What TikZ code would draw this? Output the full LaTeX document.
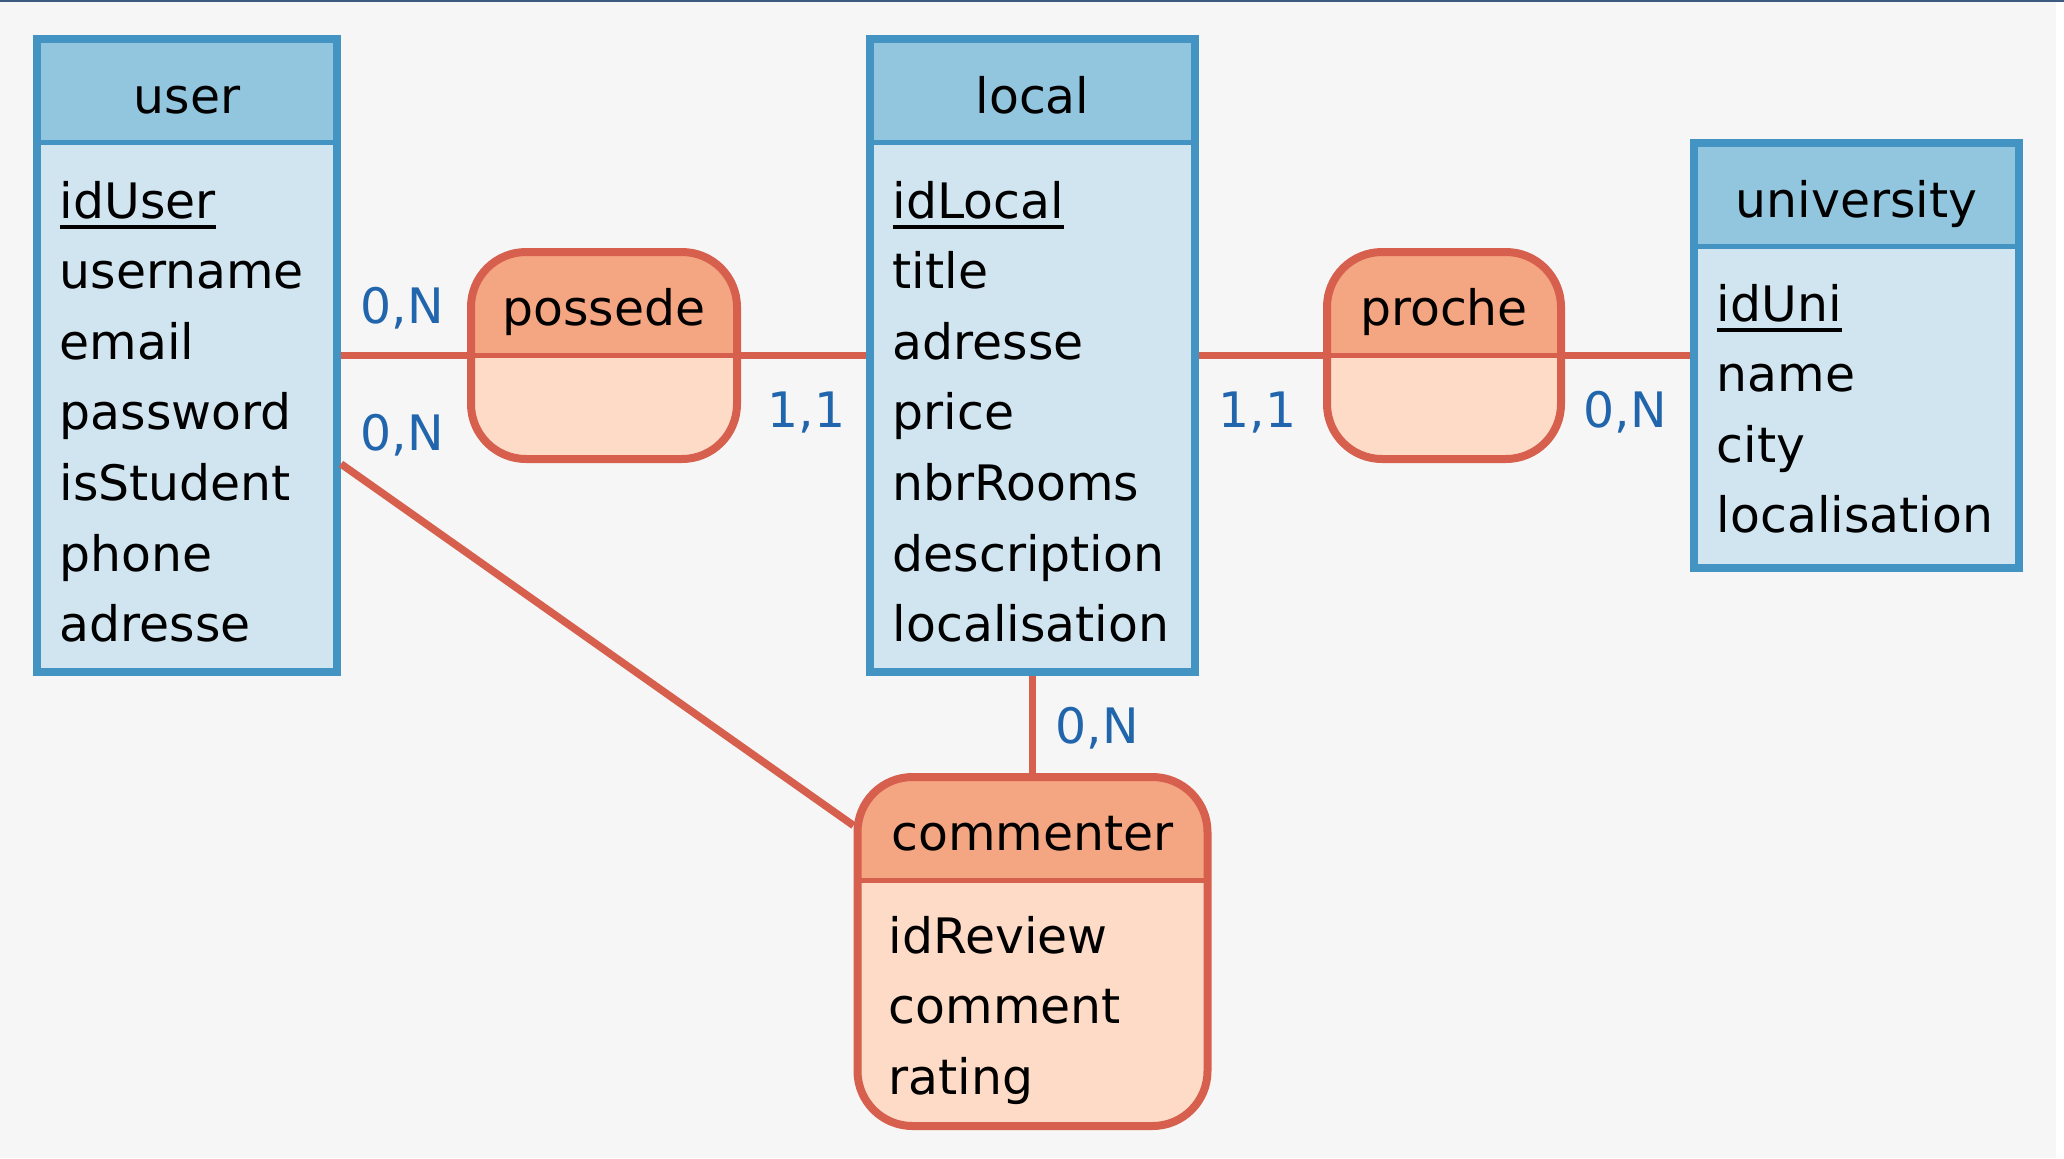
\documentclass[tikz,border=0pt]{standalone}
\usepackage{fontspec}
\setmainfont{DejaVu Sans}
\usetikzlibrary{positioning}

\definecolor{entline}{HTML}{4393C3}
\definecolor{enthead}{HTML}{92C5DE}
\definecolor{entbody}{HTML}{D1E5F0}
\definecolor{assoline}{HTML}{D6604D}
\definecolor{assohead}{HTML}{F4A582}
\definecolor{assobody}{HTML}{FDDBC7}
\definecolor{cardcol}{HTML}{2166AC}
\definecolor{bggray}{HTML}{F6F6F6}
\definecolor{topbar}{HTML}{3D5A80}

\newcommand{\keyattr}[1]{\setbox0=\hbox{#1}\rlap{\rule[-1.1mm]{\wd0}{0.4mm}}\box0}

\begin{document}
\begin{tikzpicture}[x=0.1mm, y=-0.1mm, every node/.style={font=\fontsize{13.9}{20}\selectfont}]
    \tikzset{
        boxbase/.style={draw=#1line, fill=#1body, line width=0.8mm, inner sep=0pt,
            path picture={
                \fill[#1head, sharp corners] (path picture bounding box.north west) rectangle ([yshift=-10.3mm]path picture bounding box.north east);
                \draw[#1line, line width=0.5mm, sharp corners] ([yshift=-10.3mm]path picture bounding box.north west) -- ([yshift=-10.3mm]path picture bounding box.north east);
            }},
        entbox/.style={boxbase=ent},
        assobox/.style={boxbase=asso, rounded corners=5.5mm},
        boxtitle/.style={anchor=base, inner sep=0pt},
        attr/.style={anchor=base west, inner sep=0pt},
        card/.style={anchor=base west, inner sep=0pt, text=cardcol},
        link/.style={draw=assoline, line width=0.75mm},
    }

    \useasboundingbox (0,0) rectangle (2064,1158);
    \fill[bggray] (0,0) rectangle (2056,1158);
    \fill[white] (2056,0) rectangle (2064,1158);
    \fill[topbar] (0,0) rectangle (2064,2);

    % entities
    \node[entbox, minimum width=30mm, minimum height=63.3mm] (user) at (187,355.5) {};
    \node[entbox, minimum width=32.5mm, minimum height=63.3mm] (local) at (1032.5,355.5) {};
    \node[entbox, minimum width=32.5mm, minimum height=42.5mm] (university) at (1856.5,355.5) {};

    % associations
    \node[assobox, minimum width=26.6mm, minimum height=20.7mm] (possede) at (604,355.5) {};
    \node[assobox, minimum width=23.4mm, minimum height=20.7mm] (proche) at (1444,355.5) {};
    \node[assobox, minimum width=35mm, minimum height=34.9mm] (commenter) at (1032.5,951.5) {};

    \node[boxtitle] (userT) at (187,113) {user};
    \node[boxtitle] (localT) at (1032.5,113) {local};
    \node[boxtitle] (universityT) at (1856.5,217) {university};
    \node[boxtitle] (possedeT) at (604,325) {possede};
    \node[boxtitle] (procheT) at (1444,325) {proche};
    \node[boxtitle] (commenterT) at (1032.5,850) {commenter};

    \foreach \a [count=\i] in {\keyattr{idUser},username,email,password,isStudent,phone,adresse}
        \node[attr] (user\i) at (59,{218+70.6*(\i-1)}) {\a};
    \foreach \a [count=\i] in {\keyattr{idLocal},title,adresse,price,nbrRooms,description,localisation}
        \node[attr] (local\i) at (892,{218+70.6*(\i-1)}) {\a};
    \foreach \a [count=\i] in {\keyattr{idUni},name,city,localisation}
        \node[attr] (university\i) at (1716,{321+70.6*(\i-1)}) {\a};
    \foreach \a [count=\i] in {idReview,comment,rating}
        \node[attr] (commenter\i) at (888,{953+70.6*(\i-1)}) {\a};

    \path[link]
                (user) edge (possede)
                (possede) edge (local)
                (local) edge (proche)
                (proche) edge (university)
                (local) edge (commenter)
                (user) edge (commenter)
                ;

    % cardinalities
    \node[card] (cardUP) at (360,323) {0,N};
    \node[card] (cardUC) at (360,450) {0,N};
    \node[card] (cardLP) at (767,427) {1,1};
    \node[card] (cardLR) at (1218,427) {1,1};
    \node[card] (cardUR) at (1583,427) {0,N};
    \node[card] (cardLC) at (1055,743) {0,N};
\end{tikzpicture}
\end{document}
